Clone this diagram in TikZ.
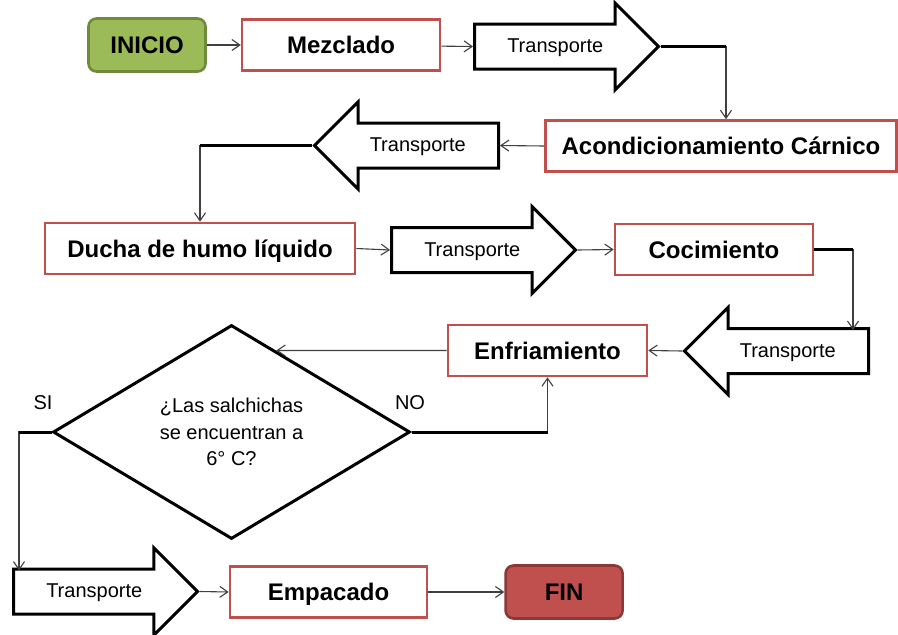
\documentclass[tikz,border=0pt]{standalone}
\usepackage{fontspec}
\setmainfont{Liberation Sans}
\usepackage{xcolor}
\usepackage{tikz}
\usetikzlibrary{positioning,shapes.arrows,shapes.geometric,arrows.meta}

\definecolor{procred}{HTML}{C0504D}
\definecolor{inigreen}{HTML}{9BBB59}
\definecolor{inigreendark}{HTML}{6F8A3A}
\definecolor{finreddark}{HTML}{8C3836}
\definecolor{linegray}{HTML}{404040}

\tikzset{
  >={Straight Barb[length=8pt,width=11pt]},
  proceso/.style={draw=procred, line width=2.6pt, fill=white, inner sep=0pt,
    minimum height=51pt, text height=18pt, text depth=1pt,
    font=\bfseries\fontsize{24}{28}\selectfont},
  terminal/.style={draw, rounded corners=8pt, line width=2.6pt, inner sep=0pt,
    minimum width=117pt, minimum height=53pt, text height=18pt, text depth=1pt,
    font=\bfseries\fontsize{24}{28}\selectfont},
  transporte/.style={single arrow, draw=black, line width=3pt, fill=white,
    single arrow head extend=21pt, minimum width=0pt, minimum height=184pt,
    text height=13pt, text depth=1pt, inner ysep=14pt, inner xsep=0pt,
    font=\fontsize{20}{24}\selectfont},
  decision/.style={diamond, draw, line width=3pt, aspect=1.67, inner sep=0pt,
    minimum width=357pt, minimum height=214pt, align=center,
    font=\fontsize{20}{26.5}\selectfont},
  etiqueta/.style={font=\fontsize{20}{24}\selectfont, inner sep=0pt},
  flujo/.style={->, draw=linegray, line width=1.1pt},
  barra/.style={line width=3pt, black}
}

\begin{document}
\begin{tikzpicture}[x=1pt, y=-1pt]
      \useasboundingbox (0,0) rectangle (898,635);

      \node[terminal, fill=inigreen, draw=inigreendark] (ini) at (147,45) {INICIO};
      \node[proceso, minimum width=198pt, right=34pt of ini] (mez) {Mezclado};
      \node[transporte, anchor=tail] (t1) at (473,46.5) {Transporte};
      \node[proceso, minimum width=351pt] (acond) at (721,146) {Acondicionamiento Cárnico};
      \node[transporte, shape border rotate=180, anchor=tail] (t2) at (500,145.5) {Transporte};
      \node[proceso, minimum width=310pt] (ducha) at (200,248.5) {Ducha de humo líquido};
      \node[transporte, anchor=tail] (t3) at (390,250) {Transporte};
      \node[proceso, minimum width=198pt] (coc) at (714,249.5) {Cocimiento};
      \node[transporte, shape border rotate=180, anchor=tail] (t4) at (870,351) {Transporte};
      \node[proceso, minimum width=199pt] (enf) at (547.5,350.5) {Enfriamiento};
      \node[decision] (dec) at (231.5,432) {¿Las salchichas\\se encuentran a\\6° C?};
      \node[etiqueta] (si) at (43,403) {SI};
      \node[etiqueta] (no) at (410,403) {NO};
      \node[transporte, anchor=tail] (t5) at (12,591.5) {Transporte};
      \node[proceso, minimum width=197pt] (emp) at (328.5,592) {Empacado};
      \node[terminal, fill=procred, draw=finreddark, right=76pt of emp] (fin) {FIN};

      \draw[flujo] (ini) -- (mez);
      \draw[flujo] (mez) -- (t1.tail);
      \draw[flujo] (t1.tip) -| coordinate[pos=.5] (k1) ([xshift=5pt]acond.north);
      \draw[barra] (t1.tip) -- (k1);
      \draw[flujo] (acond.west) -- (t2.tail);
      \draw[flujo] (t2.tip) -| coordinate[pos=.5] (k2) (ducha.north);
      \draw[barra] (t2.tip) -- (k2);
      \draw[flujo] (ducha.east) -- (t3.tail);
      \draw[flujo] (t3.tip) -- (coc.west);
      \draw[flujo] (coc.east) -| coordinate[pos=.5] (k3) ([xshift=-17pt,yshift=21pt]t4.tail);
      \draw[barra] (coc.east) -- (k3);
      \draw[flujo] (t4.tip) -- (enf.east);
      \coordinate (aux) at (enf.west -| dec.north);
      \draw[flujo] (enf.west) -- (intersection of dec.north--dec.east and enf.west--aux);
      \draw[flujo] (dec.east) -| coordinate[pos=.5] (k4) (enf.south);
      \draw[barra] (dec.east) -- (k4);
      \draw[flujo] (dec.west) -| coordinate[pos=.5] (k5) ([xshift=7pt,yshift=21pt]t5.tail);
      \draw[barra] (dec.west) -- (k5);
      \draw[flujo] (t5.tip) -- (emp.west);
      \draw[flujo] (emp) -- (fin);
\end{tikzpicture}
\end{document}
